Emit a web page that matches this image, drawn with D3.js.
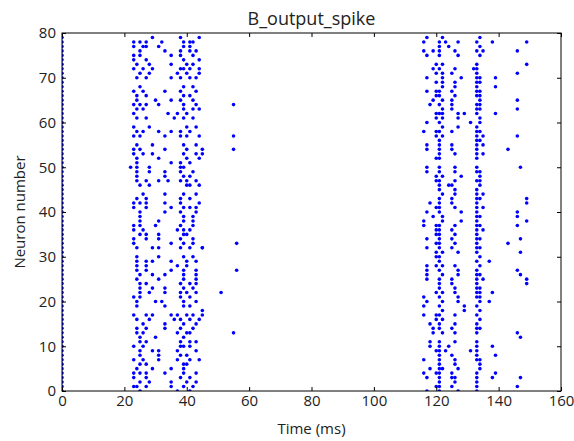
<!DOCTYPE html>
<html>
<head>
<meta charset="utf-8">
<script src="https://cdn.jsdelivr.net/npm/d3@7"></script>
<style>
  body { margin: 0; background: #fff; }
  text { font-family: "Open Sans", "DejaVu Sans", sans-serif; fill: #222; }
</style>
</head>
<body>
<script>
var startNeurons = [0,1,2,3,4,5,6,7,8,9,10,11,12,13,14,15,16,17,18,19,20,21,22,23,24,25,26,27,28,29,
  30,31,32,33,34,35,36,37,38,39,40,41,42,43,44,45,46,47,48,49,50,51,52,53,54,55,56,57,58,59,
  60,61,62,63,64,65,66,67,68,69,70,71,72,73,74,75,76,77,78,79];

var burst1 = [
  [79,[29,38,44]], [78,[23,25,27,32,39,41,42]], [77,[23,26,27,31,39,41]], [76,[25,33,38,41,43]],
  [75,[23,25,35,38,42]], [74,[23,27,39,44]], [73,[24,28,35,40,42]], [72,[23,26,29,38,39,41,44]],
  [71,[25,28,37,40,44]], [70,[24,27,35,38,41,43]], [68,[25,39,42]], [67,[23,26,33,38,43]],
  [66,[24,27,39,41]], [65,[24,30,35,38,42]], [64,[23,25,27,31,39,43]], [63,[24,26,39,42,44]],
  [62,[23,34,37,40]], [61,[24,27,36,39,42]], [59,[23,28,40,43]], [58,[24,26,31,35,38,41]],
  [57,[23,25,33,38,40,44]], [55,[24,29,39,43]], [54,[23,25,33,40,45]], [53,[23,26,29,39,43]],
  [52,[24,31,40,44]], [51,[24,35,38,41]], [50,[22,24,28,38,39]], [49,[24,28,33,38,42]],
  [48,[24,33,39,41]], [47,[24,27,31,34,38,40,43]], [46,[25,28,40,41,44]], [44,[26,33,39,43]],
  [43,[24,27,38,41]], [42,[23,25,27,33,38,44]], [41,[23,27,35,39,41,43]], [40,[25,33,38,43]],
  [39,[25,39,42]], [38,[25,31,39,42]], [37,[23,25,30,38,42]], [36,[23,26,37,39,41]],
  [35,[25,27,31,39,40]], [34,[23,27,31,38,42]], [33,[23,35,39,42]], [32,[24,29,31,38,41,45]],
  [30,[24,31,39,42]], [29,[24,27,29,35,40,43]], [28,[24,27,37,40]], [27,[24,27,35,39,43]],
  [26,[25,29,33,39,43]], [25,[24,31,39,43]], [24,[25,27,38,41,43]], [23,[25,29,33,39,42]],
  [22,[25,28,33,38,40,43]], [21,[23,25,38,41]], [20,[24,30,32,39,43]], [19,[24,33,39,41]],
  [17,[23,27,29,35,37,40,42,45]], [16,[24,28,36,38,41,44]], [15,[26,33,39,43]], [14,[24,27,33,38,42]],
  [13,[24,26,37,40,41]], [12,[25,30,39]], [11,[25,27,38,41,43]], [10,[23,26,38,39,41]],
  [9,[25,29,31,37,43]], [8,[25,31,38,40]], [7,[23,26,31,37,41,44]], [6,[25,27,39,40]],
  [5,[24,29,35,39]], [4,[23,25,27,33,39,43]], [3,[23,27,38,41]], [2,[25,28,35,40,43]],
  [1,[23,24,27,35,39,42]], [0,[25,37,41]]
];

var burst2 = [
  [79,[117,122,134]], [78,[116,121,123,127,133,138]], [77,[121,124,134]], [76,[116,119,121,126,133,135]],
  [75,[117,121,127,134]], [73,[120,122,133]], [72,[119,121,126,132,133]], [71,[120,122,125,133]],
  [70,[117,122,128,133,134,139]], [69,[120,122,126,133,134]], [68,[122,126,133,139]],
  [67,[117,120,121,125,133,134]], [66,[120,121,126,133,134]], [65,[119,122,125,134]],
  [64,[118,121,125,133,134]], [63,[122,125,133,134]], [62,[120,121,122,127,129,133,139]],
  [61,[120,122,127,134]], [60,[117,121,131,134]], [59,[122,127,133]], [58,[116,120,121,125,133,134]],
  [57,[120,122,133,135]], [56,[121,133,134]], [55,[117,121,125,133,135]], [54,[117,121,125,133]],
  [53,[121,126,133,135]], [52,[120,121,133]], [50,[117,121,126,133]], [49,[117,121,126,133,134]],
  [48,[120,122,128,134]], [47,[120,121,126,133,134]], [46,[121,124,125,134]], [45,[121,126,133]],
  [44,[122,126,133,135]], [43,[121,125,133,134]], [42,[118,121,125,133]], [41,[120,121,126,133,135]],
  [40,[117,121,128,133]], [39,[119,122,133,134]], [38,[116,122,128,133]], [37,[116,120,121,126,133,134]],
  [36,[120,121,125,133,135]], [35,[120,121,126,133]], [34,[117,121,125,133,134]], [33,[120,121,126,133]],
  [32,[117,121,125,133,134]], [31,[120,122,127,133]], [30,[120,121,134]], [29,[121,133,137]],
  [28,[117,120,122,126,134]], [27,[117,121,127,133]], [26,[117,122,127,133,134]], [25,[117,121,125,133,135]],
  [24,[121,125,133]], [23,[121,126,133,134]], [22,[120,122,126,133,134,138]], [21,[116,121,127,133,134]],
  [20,[117,122,127,134,137]], [19,[116,121,129,133]], [18,[122,129,134]], [17,[116,120,121,126,133]],
  [16,[120,122,134]], [15,[118,121,126,133]], [14,[119,121,125,133,134]], [13,[119,122,126,133]],
  [11,[118,121,126,133]], [10,[118,121,124,133,138]], [9,[120,121,123,131,133]], [8,[121,125,133,139]],
  [7,[116,121,126,133,134]], [6,[121,126,134]], [5,[118,121,122,127,134]], [4,[116,120,121,125,133,139]],
  [3,[117,121,125,126,133,138]], [2,[121,126,133]], [1,[120,121,125,133]], [0,[117,121,127,133]]
];

// late sparse spikes, parallel lists
var lateTimes   = [149,146,149,146,146,146,146,143,147,149,149,146,146,149,146,147,143,147,146,147,149,149,146,147,147,146];
var lateNeurons = [78, 76, 73, 71, 65, 63, 57, 54, 50, 43, 42, 40, 39, 38, 37, 34, 33, 31, 27, 26, 25, 24, 13, 12, 3,  1];

var strayTimes   = [45,45,45,51,55,55,55,55,56,56];
var strayNeurons = [53,32,18,22,64,57,54,13,33,27];

var xTicks = [0,20,40,60,80,100,120,140,160];
var yTicks = [0,10,20,30,40,50,60,70,80];

var W = 574, H = 441;
var margin = {left: 62, right: 13, top: 33, bottom: 50};

var x = d3.scaleLinear().domain([0,160]).range([margin.left, W - margin.right]);
var y = d3.scaleLinear().domain([0,80]).range([H - margin.bottom, margin.top]);

// flatten into points
var spikes = [];
startNeurons.forEach(function(n) { spikes.push({t: 0, n: n}); });
burst1.concat(burst2).forEach(function(row) {
    row[1].forEach(function(t) { spikes.push({t: t, n: row[0]}); });
});
lateTimes.forEach(function(t, i) { spikes.push({t: t, n: lateNeurons[i]}); });
strayTimes.forEach(function(t, i) { spikes.push({t: t, n: strayNeurons[i]}); });

var svg = d3.select("body").append("svg")
        .attr("width", W)
        .attr("height", H);

svg.append("defs").append("clipPath")
        .attr("id", "plotclip")
        .append("rect")
        .attr("x", x(0)).attr("y", y(80))
        .attr("width", x(160) - x(0)).attr("height", y(0) - y(80));

svg.append("g")
        .attr("clip-path", "url(#plotclip)")
        .selectAll("circle")
        .data(spikes)
        .enter().append("circle")
        .attr("cx", function(d) { return x(d.t); })
        .attr("cy", function(d) { return y(d.n); })
        .attr("r", 1.8)
        .attr("fill", "#0000ff");

//axes, ticks pointing inwards on all four sides
function styleAxis(g) {
    g.select(".domain").remove();
    g.selectAll(".tick line").attr("stroke", "#000").attr("stroke-width", 1);
    g.selectAll(".tick text").attr("font-size", 15).attr("fill", "#222")
            .attr("font-family", "'Open Sans', 'DejaVu Sans', sans-serif");
}

svg.append("g")
        .attr("transform", "translate(0," + y(0) + ")")
        .call(d3.axisBottom(x).tickValues(xTicks).tickSize(-4).tickPadding(4).tickFormat(d3.format("d")))
        .call(styleAxis);
svg.append("g")
        .attr("transform", "translate(0," + y(80) + ")")
        .call(d3.axisTop(x).tickValues(xTicks).tickSize(-4).tickFormat(""))
        .call(styleAxis);
svg.append("g")
        .attr("transform", "translate(" + x(0) + ",0)")
        .call(d3.axisLeft(y).tickValues(yTicks).tickSize(-4).tickPadding(6).tickFormat(d3.format("d")))
        .call(styleAxis);
svg.append("g")
        .attr("transform", "translate(" + x(160) + ",0)")
        .call(d3.axisRight(y).tickValues(yTicks).tickSize(-4).tickFormat(""))
        .call(styleAxis);

svg.append("rect")
        .attr("x", x(0)).attr("y", y(80))
        .attr("width", x(160) - x(0)).attr("height", y(0) - y(80))
        .attr("fill", "none")
        .attr("stroke", "#000")
        .attr("stroke-width", 1);

svg.append("text")
        .attr("x", (x(0) + x(160)) / 2)
        .attr("y", 25)
        .attr("text-anchor", "middle")
        .attr("font-size", 18)
        .text("B_output_spike");

svg.append("text")
        .attr("x", (x(0) + x(160)) / 2)
        .attr("y", 434)
        .attr("text-anchor", "middle")
        .attr("font-size", 15)
        .text("Time (ms)");

svg.append("text")
        .attr("transform", "translate(25," + ((y(0) + y(80)) / 2) + ") rotate(-90)")
        .attr("text-anchor", "middle")
        .attr("font-size", 15)
        .text("Neuron number");
</script>
</body>
</html>
